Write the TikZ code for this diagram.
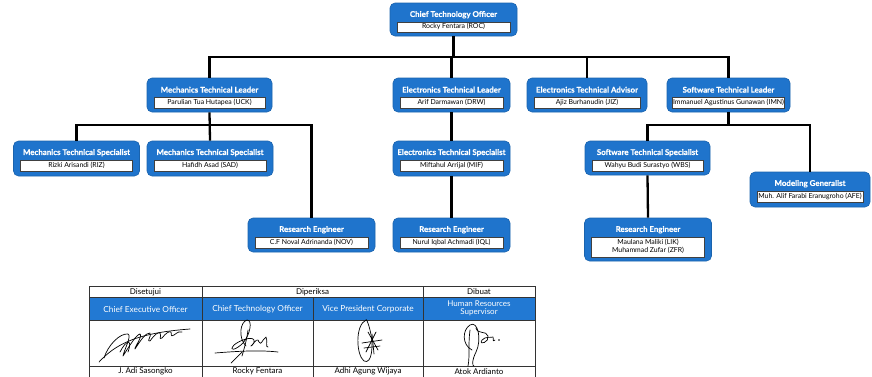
\documentclass[tikz,border=0pt]{standalone}
\usepackage{fontspec}
\setmainfont{Lato}[BoldFeatures={FakeBold=0.6}]
\usetikzlibrary{calc}
\definecolor{orgblue}{HTML}{1F74CC}
\definecolor{tblblue}{HTML}{2279D3}
\newcommand\orgbox[8]{% name, cx, top, w, h, title, person, inner height
  \node[obox, minimum width=#4, minimum height=#5] (#1) at (#2,{#3+#5/2}) {};
  \node[otitle] (#1t) at ($(#1.north)+(0,12)$) {#6};
  \node[oname, minimum width={#4-14}, minimum height=#8] (#1n) at ($(#1.north)+(0,{19+#8/2})$) {#7};
}
\begin{document}
\begin{tikzpicture}[x=1pt,y=-1pt,
  obox/.style={draw=orgblue!85!black, line width=0.6pt, fill=orgblue, rounded corners=5pt, inner sep=0pt},
  otitle/.style={text=white, font=\bfseries\fontsize{7.9}{9}\selectfont, inner sep=0pt},
  oname/.style={draw=black!75, line width=0.4pt, fill=white, inner sep=0.5pt, font=\fontsize{6.9}{8.2}\selectfont, align=center},
  conn/.style={line width=2.3pt, black},
  tline/.style={line width=0.6pt, black!80},
  thead/.style={font=\fontsize{8}{9}\selectfont, inner sep=0pt, align=center},
  tblue/.style={font=\fontsize{8.3}{9}\selectfont, text=white, inner sep=0pt, align=center},
  sig/.style={line width=0.7pt, black, line cap=round, line join=round}]
\useasboundingbox (0,0) rectangle (872,376);

\coordinate (bar1) at (0,57);
\coordinate (bar2) at (0,125);

% ---- boxes
\orgbox{cto}{453.5}{3}{127}{33}{Chief Technology Officer}{Rocky Fentara (ROC)}{10}
\orgbox{mtl}{209.5}{78}{125}{34}{Mechanics Technical Leader}{Parulian Tua Hutapea (UCK)}{11}
\orgbox{etl}{451.5}{78}{117}{34}{Electronics Technical Leader}{Arif Darmawan (DRW)}{11}
\orgbox{eta}{587}{78}{120}{34}{Electronics Technical Advisor}{Ajiz Burhanudin (JIZ)}{11}
\orgbox{stl}{728.5}{78}{123}{34}{Software Technical Leader}{Immanuel Agustinus Gunawan (IMN)}{11}
\orgbox{ms1}{76.5}{141}{126}{35}{Mechanics Technical Specialist}{Rizki Arisandi (RIZ)}{11}
\orgbox{ms2}{210}{141}{126}{35}{Mechanics Technical Specialist}{Hafidh Asad (SAD)}{11}
\orgbox{es}{451.5}{141}{117}{35}{Electronics Technical Specialist}{Miftahul Arrijal (MIF)}{11}
\orgbox{sws}{647.5}{141}{125}{34}{Software Technical Specialist}{Wahyu Budi Surastyo (WBS)}{11}
\orgbox{mg}{810}{172}{120}{35}{Modeling Generalist}{Muh. Alif Farabi Eranugroho (AFE)}{11}
\orgbox{re1}{311.5}{218}{127}{34}{Research Engineer}{C.F Noval Adrinanda (NOV)}{11}
\orgbox{re2}{451.5}{218}{117}{34}{Research Engineer}{Nurul Iqbal Achmadi (IQL)}{11}
\orgbox{re3}{648}{218}{127}{43}{Research Engineer}{Maulana Maliki (LIK)\\Muhammad Zufar (ZFR)}{20}

% connectors
\draw[conn] (cto.south) -- (cto.south|-bar1);
\draw[conn] (mtl.north) |- (stl.north|-bar1) -- (stl.north);
\draw[conn] (etl.north) -- (etl.north|-bar1);
\draw[conn] (eta.north) -- (eta.north|-bar1);
\draw[conn] (mtl.south) -- (ms2.north);
\draw[conn] (ms1.north) |- (re1.north|-bar2) -- (re1.north);
\draw[conn] (etl.south) -- (es.north);
\draw[conn] (es.south) -- (re2.north);
\draw[conn] (stl.south) -- (stl.south|-bar2);
\draw[conn] (sws.north) |- (mg.north|-bar2) -- (mg.north);
\draw[conn] (sws.south) -- (re3.north);

% ---- approval table
\fill[tblblue] (89,297) rectangle (535,320);
\draw[tline] (89,286) rectangle (535,380);
\draw[tline] (89,297) -- (535,297);
\draw[tline] (89,320) -- (535,320);
\draw[tline] (89,366) -- (535,366);
\draw[tline] (202,286) -- (202,380);
\draw[tline] (423,286) -- (423,380);
\draw[tline] (313,297) -- (313,380);

\node[thead] (h1) at (145.5,292) {Disetujui};
\node[thead] (h2) at (312.5,292) {Diperiksa};
\node[thead] (h3) at (479,292) {Dibuat};
\node[tblue] (r1) at (145.5,309) {Chief Executive Officer};
\node[tblue] (r2) at (257.5,309) {Chief Technology Officer};
\node[tblue] (r3) at (368,309) {Vice President Corporate};
\node[tblue, font=\fontsize{8}{8.4}\selectfont] (r4) at (479,308.5) {Human Resources\\Supervisor};
\node[thead] (n1) at (145.5,371.5) {J. Adi Sasongko};
\node[thead] (n2) at (257.5,371.5) {Rocky Fentara};
\node[thead] (n3) at (368,371.5) {Adhi Agung Wijaya};
\node[thead] (n4) at (479,371.5) {Atok Ardianto};

% ---- signatures
% CEO
\draw[sig] (99,362) .. controls (115,345) and (135,333) .. (190,329);
\draw[sig] (104,358) .. controls (108,345) and (120,333) .. (128,334)
  .. controls (132,336) and (124,350) .. (123,356)
  .. controls (130,345) and (136,335) .. (140,334)
  .. controls (143,336) and (134,348) .. (135,349)
  .. controls (142,338) and (146,333) .. (150,333)
  .. controls (152,336) and (146,342) .. (150,341)
  .. controls (155,334) and (158,332) .. (160,333)
  .. controls (162,336) and (158,340) .. (162,338)
  .. controls (166,333) and (169,331) .. (171,332)
  .. controls (172,335) and (170,337) .. (174,335)
  .. controls (178,332) and (180,331) .. (182,332);
\draw[sig] (120,352) .. controls (126,340) and (133,338) .. (128,352);
% CTO
\draw[sig] (246,346) .. controls (238,338) and (240,322) .. (247,320)
  .. controls (253,320) and (250,335) .. (243,343)
  .. controls (236,350) and (228,352) .. (234,345)
  .. controls (240,340) and (252,336) .. (254,340)
  .. controls (256,344) and (248,348) .. (252,345)
  .. controls (256,340) and (258,338) .. (259,342)
  .. controls (261,346) and (262,340) .. (266,337)
  .. controls (268,340) and (265,348) .. (268,347);
\draw[sig] (215,353) .. controls (240,351) and (260,350) .. (278,352);
\draw[sig] (242,352) .. controls (238,356) and (234,360) .. (231,363);
\draw[sig] (248,330) .. controls (247,338) and (245,346) .. (242,356);
% VP
\draw[sig] (366,320) .. controls (355,325) and (356,355) .. (364,361)
  .. controls (372,365) and (374,345) .. (370,330)
  .. controls (368,322) and (366,318) .. (366,320);
\draw[sig] (368,332) -- (378,350);
\draw[sig] (376,332) -- (366,352);
\draw[sig] (362,343) -- (382,340);
\draw[sig] (372,334) -- (374,354);
\draw[sig] (364,348) -- (380,346);
% HRS
\draw[sig] (472,350) .. controls (462,345) and (462,330) .. (470,325)
  .. controls (478,320) and (482,340) .. (476,352)
  .. controls (472,360) and (472,366) .. (474,366);
\draw[sig] (470,330) .. controls (468,345) and (470,356) .. (468,366);
\draw[sig] (476,328) .. controls (478,335) and (486,330) .. (488,336)
  .. controls (490,342) and (478,346) .. (482,340)
  .. controls (486,336) and (490,338) .. (493,337)
  .. controls (494,340) and (492,342) .. (495,340);
\fill (499,340) circle (0.8);
\end{tikzpicture}
\end{document}
